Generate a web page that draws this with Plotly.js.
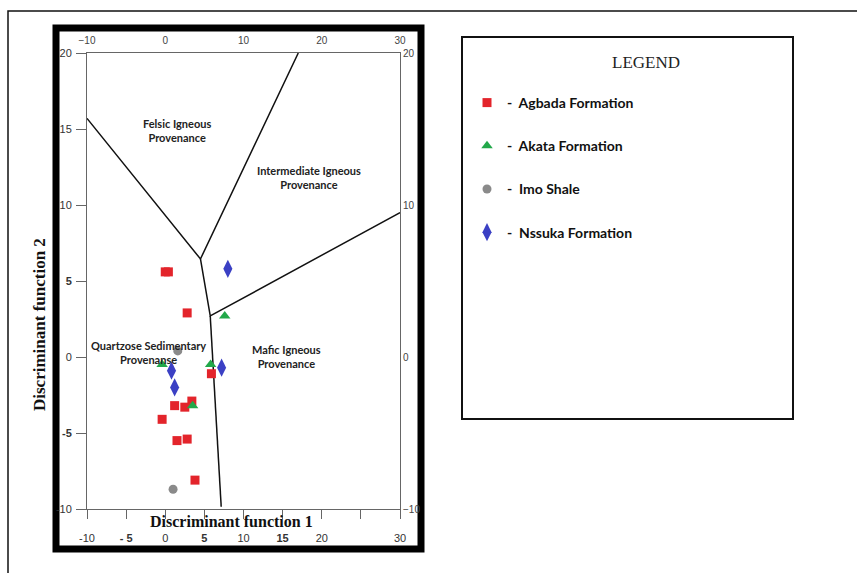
<!DOCTYPE html>
<html>
<head>
<meta charset="utf-8">
<script src="https://cdn.plot.ly/plotly-3.0.1.min.js"></script>
<style>html,body{margin:0;padding:0;background:#fff;}#chart{width:857px;height:573px;}</style>
</head>
<body>
<div id="chart"></div>
<script>
// ---- data ----
const agbadaX = [0.0, 0.4, 2.8, 5.9, 3.4, 1.2, 2.5, -0.4, 1.5, 2.8, 3.8];
const agbadaY = [5.6, 5.6, 2.9, -1.1, -2.9, -3.2, -3.3, -4.1, -5.5, -5.4, -8.1];
const akataX = [7.6, -0.4, 5.8, 3.5];
const akataY = [2.7, -0.5, -0.5, -3.2];
const imoX = [1.6, 1.0];
const imoY = [0.4, -8.7];
const nssukaX = [8.0, 0.8, 1.2, 7.2];
const nssukaY = [5.8, -0.9, -2.0, -0.7];

// provenance field boundaries (segments separated by null)
const boundaryX = [-10, 4.5, 17.0, null, 4.5, 5.75, 30, null, 5.75, 7.15];
const boundaryY = [15.7, 6.45, 20, null, 6.45, 2.7, 9.5, null, 2.7, -9.85];

const fieldNames = ["Felsic Igneous<br>Provenance", "Intermediate Igneous<br>Provenance",
                    "Quartzose Sedimentary<br>Provenanse", "Mafic Igneous<br>Provenance"];
const fieldX = [1.5, 18.4, -2.2, 15.5];
const fieldY = [14.9, 11.8, 0.3, 0.05];

const seriesNames = ["Agbada Formation", "Akata Formation", "Imo Shale", "Nssuka Formation"];

const bottomTicks = [-10, -5, 0, 5, 10, 15, 20, 25, 30];
const bottomTickText = ["-10", "<b>- 5</b>", "0", "<b>5</b>", "10", "<b>15</b>", "20", "", "30"];
const topTicks = [-10, 0, 10, 20, 30];
const leftTicks = [-10, -5, 0, 5, 10, 15, 20];
const leftTickText = ["-10", "<b>-5</b>", "0", "<b>5</b>", "10", "15", "20"];
const rightTicks = [-10, 0, 10, 20];

// ---- helpers: pixel -> paper (plot area 87..400 x, 53..509 y) ----
const px = p => (p - 87) / 313;
const py = p => (509 - p) / 456;

const legendLabel = n => "<b>-\u00a0\u00a0" + n + "</b>";

const traces = [
  {x: boundaryX, y: boundaryY, mode: "lines", line: {color: "#111", width: 1.5},
   showlegend: false, hoverinfo: "skip"},
  {x: agbadaX, y: agbadaY, mode: "markers", name: legendLabel(seriesNames[0]), legendgroup: "a",
   marker: {symbol: "square", size: 9, color: "#e3242b"}},
  {x: akataX, y: akataY, mode: "markers", name: legendLabel(seriesNames[1]), legendgroup: "b",
   marker: {symbol: "triangle-up", size: 10, color: "#22a84a"}},
  {x: imoX, y: imoY, mode: "markers", name: legendLabel(seriesNames[2]), legendgroup: "c",
   marker: {symbol: "circle", size: 9, color: "#8a8a8a"}},
  {x: nssukaX, y: nssukaY, mode: "markers", name: legendLabel(seriesNames[3]), legendgroup: "d",
   marker: {symbol: "diamond-tall", size: 13, color: "#3b40c4"}},
  // empty traces so the mirrored top and right axes are drawn
  {x: [null], y: [null], xaxis: "x2", yaxis: "y", mode: "markers", showlegend: false, hoverinfo: "skip"},
  {x: [null], y: [null], xaxis: "x", yaxis: "y2", mode: "markers", showlegend: false, hoverinfo: "skip"}
];

const annotations = fieldNames.map((t, i) => ({
  x: fieldX[i], y: fieldY[i], xref: "x", yref: "y", text: "<b>" + t + "</b>", showarrow: false,
  xanchor: "center", yanchor: "middle",
  font: {family: "Lato, 'Open Sans', sans-serif", size: 11, color: "#222"}, align: "center"
}));

annotations.push({
  x: px(231), y: py(521), xref: "paper", yref: "paper", text: "<b>Discriminant function 1</b>",
  xanchor: "center", yanchor: "middle", showarrow: false,
  font: {family: "'Liberation Serif', 'DejaVu Serif', serif", size: 16, color: "#111"}
});
annotations.push({
  x: px(39), y: py(325), xref: "paper", yref: "paper", text: "<b>Discriminant function 2</b>",
  xanchor: "center", yanchor: "middle", textangle: -90, showarrow: false,
  font: {family: "'Liberation Serif', 'DejaVu Serif', serif", size: 17, color: "#111"}
});
annotations.push({
  x: px(646), y: py(63), xref: "paper", yref: "paper", text: "LEGEND", showarrow: false,
  xanchor: "center", yanchor: "middle",
  font: {family: "'Liberation Serif', 'DejaVu Serif', serif", size: 17, color: "#222"}
});

const shapes = [
  // outer thin border (left and top)
  {type: "path", xref: "paper", yref: "paper", layer: "below",
   path: `M ${px(8)} ${py(600)} L ${px(8)} ${py(11)} L ${px(900)} ${py(11)}`,
   line: {color: "#111", width: 1.5}},
  // thick black frame around the diagram
  {type: "rect", xref: "paper", yref: "paper", layer: "below",
   x0: px(56), x1: px(421), y0: py(549), y1: py(28),
   line: {color: "#000", width: 7}},
  // legend box
  {type: "rect", xref: "paper", yref: "paper", layer: "below",
   x0: px(462), x1: px(793), y0: py(419), y1: py(37),
   line: {color: "#111", width: 2}}
];

const axisFont = {family: "'Liberation Sans Narrow', 'Liberation Sans', sans-serif", size: 11, color: "#333"};

const layout = {
  width: 857, height: 573,
  margin: {l: 87, r: 457, t: 53, b: 64},
  paper_bgcolor: "#fff", plot_bgcolor: "rgba(0,0,0,0)",
  showlegend: true,
  legend: {x: px(467), y: py(87), xanchor: "left", yanchor: "top", tracegroupgap: 22,
           bgcolor: "rgba(0,0,0,0)",
           font: {family: "Lato, 'Open Sans', sans-serif", size: 14, color: "#111"}},
  xaxis: {range: [-10, 30], showgrid: false, zeroline: false, showline: true, linecolor: "#666",
          linewidth: 1, ticks: "outside", ticklen: 9, tickcolor: "#666", tickvals: bottomTicks,
          ticktext: bottomTickText, tickfont: axisFont, ticklabelstandoff: 10, fixedrange: true},
  xaxis2: {range: [-10, 30], overlaying: "x", side: "top", showgrid: false, zeroline: false,
           showline: true, linecolor: "#666", linewidth: 1, ticks: "", tickvals: topTicks,
           tickfont: {family: axisFont.family, size: 10, color: "#444"}, ticklabelstandoff: 4},
  yaxis: {range: [-10, 20], showgrid: false, zeroline: false, showline: true, linecolor: "#666",
          linewidth: 1, ticks: "outside", ticklen: 10, tickcolor: "#666", tickvals: leftTicks,
          ticktext: leftTickText, tickfont: axisFont, ticklabelstandoff: 2, fixedrange: true},
  yaxis2: {range: [-10, 20], overlaying: "y", side: "right", showgrid: false, zeroline: false,
           showline: true, linecolor: "#666", linewidth: 1, ticks: "", tickvals: rightTicks,
           tickfont: {family: axisFont.family, size: 10, color: "#444"}},
  annotations: annotations,
  shapes: shapes
};

Plotly.newPlot("chart", traces, layout, {displayModeBar: false, staticPlot: true});
</script>
</body>
</html>
